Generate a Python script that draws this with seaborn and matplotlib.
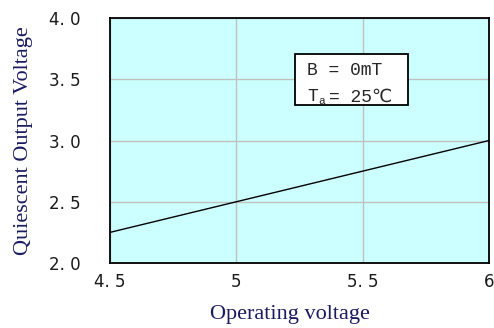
import matplotlib
matplotlib.use("Agg")
import matplotlib.pyplot as plt
import seaborn as sns
import pandas as pd
from matplotlib.patches import Rectangle

operating_voltage = [4.5, 5.0, 5.5, 6.0]
quiescent_output = [2.25, 2.5, 2.75, 3.0]
x_ticks = [4.5, 5.0, 5.5, 6.0]
x_tick_labels = ["4. 5", "5", "5. 5", "6"]
y_ticks = [2.0, 2.5, 3.0, 3.5, 4.0]
y_tick_labels = ["2. 0", "2. 5", "3. 0", "3. 5", "4. 0"]

sns.set_style("white")
plt.rcParams['font.family'] = ['DejaVu Sans']

df = pd.DataFrame({"x": operating_voltage, "y": quiescent_output})

fig = plt.figure(figsize=(4.94, 3.28), dpi=100)
ax = fig.add_axes([0.2227, 0.1982, 0.7672, 0.7468])
ax.set_facecolor("#CCFFFF")

sns.lineplot(data=df, x="x", y="y", ax=ax, color="black", linewidth=1.0)

ax.set_xlim(4.5, 6.0)
ax.set_ylim(2.0, 4.0)
ax.set_xticks(x_ticks)
ax.set_xticklabels(x_tick_labels, fontsize=12, color="#1a1a1a")
ax.set_yticks(y_ticks)
ax.set_yticklabels(y_tick_labels, fontsize=12, color="#1a1a1a")
ax.grid(True, color="#c0c0c0", linewidth=1.0)
ax.set_axisbelow(True)
for s in ax.spines.values():
    s.set_color("black")
    s.set_linewidth(1.3)
ax.tick_params(axis="both", direction="in", length=3, color="#606060")
ax.tick_params(axis="y", pad=21)
ax.tick_params(axis="x", pad=7)

ax.set_xlabel("Operating voltage", fontsize=16, family=["Liberation Serif"], color="#1a1a60")
ax.xaxis.label.set_va("center")
ax.xaxis.set_label_coords(0.476, -0.212)
ax.set_ylabel("Quiescent Output Voltage", fontsize=16, family=["Liberation Serif"], color="#1a1a60")
ax.yaxis.label.set_va("center")
ax.yaxis.set_label_coords(-0.227, 0.5)

rect = Rectangle((0.488, 0.645), 0.298, 0.208, transform=ax.transAxes,
                 facecolor="white", edgecolor="black", linewidth=1.3, zorder=5)
ax.add_patch(rect)
mono = ["Liberation Mono", "DejaVu Sans"]
ax.text(0.52, 0.784, "B = 0mT", transform=ax.transAxes, fontsize=13,
        family=mono, va="center", ha="left", zorder=6)
ax.text(0.52, 0.678, "T", transform=ax.transAxes, fontsize=13,
        family=mono, va="center", ha="left", zorder=6)
ax.text(0.549, 0.660, "a", transform=ax.transAxes, fontsize=8,
        family=mono, va="center", ha="left", zorder=6)
ax.text(0.579, 0.678, "= 25\u2103", transform=ax.transAxes, fontsize=13,
        family=mono, va="center", ha="left", zorder=6)

fig.savefig("out.png", dpi=100, facecolor="white")
